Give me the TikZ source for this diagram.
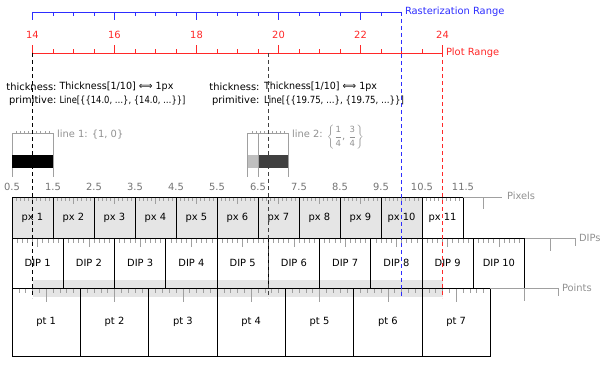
\documentclass[tikz,border=0pt]{standalone}
\usepackage{fontspec}
\usepackage{graphicx}
\setmainfont{DejaVu Sans}
\definecolor{tickgray}{RGB}{160,160,160}
\definecolor{labgray}{RGB}{115,115,115}
\definecolor{ltgray}{RGB}{145,145,145}
\definecolor{bandgray}{RGB}{229,229,229}
\definecolor{rblue}{RGB}{45,45,255}
\definecolor{pred}{RGB}{255,40,40}
\definecolor{dgray}{RGB}{64,64,64}
\definecolor{lgray}{RGB}{191,191,191}
\newcommand\myfr[2]{\frac{\mbox{\fontsize{8.5}{9}\selectfont #1}}{\mbox{\fontsize{8.5}{9}\selectfont #2}}}
\newcommand\fitw[2]{\resizebox{#1}{\height}{#2}}
\begin{document}
\begin{tikzpicture}[x=1pt,y=-1pt,
  every node/.style={inner sep=0pt,outer sep=0pt,font=\fontsize{9.9}{11.5}\selectfont},
  cell/.style={draw=black,line width=0.9pt,anchor=north west},
  tk/.style={draw=tickgray,line width=0.6pt},
  rul/.style={draw=tickgray,line width=0.9pt},
  dline/.style={line width=1pt,dash pattern=on 4pt off 3pt},
  keyl/.style={anchor=base east},
  vall/.style={anchor=base west}]
\useasboundingbox (0,0) rectangle (602,369);

% ---------- rasterization range axis (blue)
\draw[rblue,line width=0.9pt] (32.5,12) -- (401.5,12);
\foreach \i in {0,...,18}{
  \pgfmathsetmacro\len{mod(\i,4)==0 ? 8 : 4}
  \draw[rblue,line width=0.8pt] ({32.5+\i*20.5},12) -- ++(0,\len);
}
\node[anchor=base west,text=rblue] (rastlab) at (405,15) {Rasterization Range};

% ---------- plot range axis (red)
\draw[pred,line width=0.9pt] (32.5,53) -- (442.5,53);
\foreach \i in {0,...,20}{
  \pgfmathsetmacro\len{mod(\i,4)==0 ? 8 : 4}
  \draw[pred,line width=0.8pt] ({32.5+\i*20.5},53) -- ++(0,-\len);
}
\foreach \k/\v in {0/14,1/16,2/18,3/20,4/22,5/24}
  \node[text=pred] (pl\v) at ({32.5+\k*82},35) {\v};
\node[anchor=base west,text=pred] (plotlab) at (446,55.5) {Plot Range};

% ---------- texts
\node[keyl] (th1) at (56.5,90) {thickness:};
\node[vall] (thv1) at (59.5,90) {\fitw{114pt}{Thickness[1/10] ⟺ 1px}};
\node[keyl] (pr1) at (56.5,103.5) {primitive:};
\node[vall] (prv1) at (59.5,103.5) {\fitw{126pt}{Line[\{\{14.0, …\}, \{14.0, …\}\}]}};
\node[keyl] (th2) at (259.5,90) {thickness:};
\node[vall] (thv2) at (264,90) {\fitw{113pt}{Thickness[1/10] ⟺ 1px}};
\node[keyl] (pr2) at (259.5,103.5) {primitive:};
\node[vall] (prv2) at (264,103.5) {\fitw{140pt}{Line[\{\{19.75, …\}, \{19.75, …\}\}]}};

% ---------- line 1 sample
\draw[rul] (12,133) -- (53,133);
\foreach \k in {1,...,9}{
  \pgfmathsetmacro\len{\k==5 ? 3.5 : 2}
  \draw[tk] ({12+4.1*\k},133) -- ++(0,-\len);
}
\draw[rul] (12,133) -- (12,177);
\draw[rul] (53,133) -- (53,177);
\fill[black] (12,155) rectangle (53,167.5);
\node[anchor=base west,text=ltgray] (l1lab) at (57,137) {line 1: \{1, 0\}};

% ---------- line 2 sample
\draw[rul] (247.75,133) -- (288.75,133);
\foreach \k in {1,...,9}{
  \pgfmathsetmacro\len{\k==5 ? 3.5 : 2}
  \draw[tk] ({247.75+4.1*\k},133) -- ++(0,-\len);
}
\fill[lgray] (247.75,155) rectangle (258,167.5);
\fill[dgray] (258,155) rectangle (288.75,167.5);
\draw[rul] (247.75,133) -- (247.75,177);
\draw[rul] (258,133) -- (258,177);
\draw[rul] (288.75,133) -- (288.75,177);
\node[anchor=base west,text=ltgray] (l2lab) at (292,137)
  {line 2: \raisebox{-2.5pt}{$\displaystyle\left\{\myfr{1}{4}\mbox{, }\myfr{3}{4}\right\}$}};

% ---------- pixel labels
\foreach \p/\lab in {0/0.5,1/1.5,2/2.5,3/3.5,4/4.5,5/5.5,6/6.5,7/7.5,8/8.5,9/9.5,10/10.5,11/11.5}
  \node[anchor=base,text=labgray] (pv\p) at ({12+41*\p},190.5) {\lab};

% ---------- band
\fill[bandgray] (32.5,280) rectangle (442.5,297);

% ---------- pixel row
\foreach \i in {1,...,10}
  \node[cell,fill=bandgray,minimum width=41pt,minimum height=41pt] (px\i) at ({12+41*(\i-1)},197) {px \i};
\node[cell,fill=white,minimum width=41pt,minimum height=41pt] (px11) at (422,197) {px 11};
\foreach \i in {0,...,10}
  \foreach \k in {1,...,9}{
    \pgfmathsetmacro\len{\k==5 ? 6.5 : 3.5}
    \draw[tk] ({12+41*\i+4.1*\k},197.5) -- ++(0,\len);
  }
\draw[rul] (px11.north east) -- (502,197);
\draw[tk,line width=0.9pt] (483.5,197) -- (483.5,209);
\node[anchor=west,text=ltgray] (pixlab) at (507,196) {Pixels};

% ---------- DIP row
\foreach \i in {1,...,10}
  \node[cell,minimum width=51.25pt,minimum height=50pt] (dip\i) at ({12+51.25*(\i-1)},238) {DIP \i};
\foreach \i in {0,...,9}
  \foreach \k in {1,...,9}{
    \pgfmathsetmacro\len{\k==5 ? 8 : 4}
    \draw[tk] ({12+51.25*\i+5.125*\k},238.5) -- ++(0,\len);
  }
\draw[rul] (dip10.north east) -- (575.75,238);
\draw[tk,line width=0.9pt] (550.1,238) -- (550.1,251);
\draw[tk,line width=0.9pt] (575.75,238) -- (575.75,246);
\node[anchor=west,text=ltgray] (diplab) at (579,237.5) {DIPs};

% ---------- points row
\foreach \i in {1,...,7}
  \node[cell,minimum width=68.333pt,minimum height=68pt] (pt\i) at ({12+68.333*(\i-1)},288) {pt \i};
\foreach \i in {0,...,6}
  \foreach \k in {1,...,9}{
    \pgfmathsetmacro\len{\k==5 ? 13 : 4.5}
    \draw[tk] ({12+68.333*\i+6.8333*\k},288.5) -- ++(0,\len);
  }
\draw[rul] (pt7.north east) -- (558.7,288);
\draw[tk,line width=0.9pt] (524.5,288) -- (524.5,301);
\draw[tk,line width=0.9pt] (558.7,288) -- (558.7,296);
\node[anchor=west,text=ltgray] (ptlab) at (562,288) {Points};

% ---------- dashed markers
\coordinate (d1t) at (32.5,53);   \coordinate (d1b) at (32.5,298);
\coordinate (d2t) at (268.25,53); \coordinate (d2b) at (268.25,298);
\coordinate (d3t) at (401.5,12);  \coordinate (d3b) at (401.5,298);
\coordinate (d4t) at (442.5,53);  \coordinate (d4b) at (442.5,298);
\draw[dline,black] (d1t) -- (d1b);
\draw[dline,dgray] (d2t) -- (d2b);
\draw[dline,rblue] (d3t) -- (d3b);
\draw[dline,pred] (d4t) -- (d4b);
\end{tikzpicture}
\end{document}
